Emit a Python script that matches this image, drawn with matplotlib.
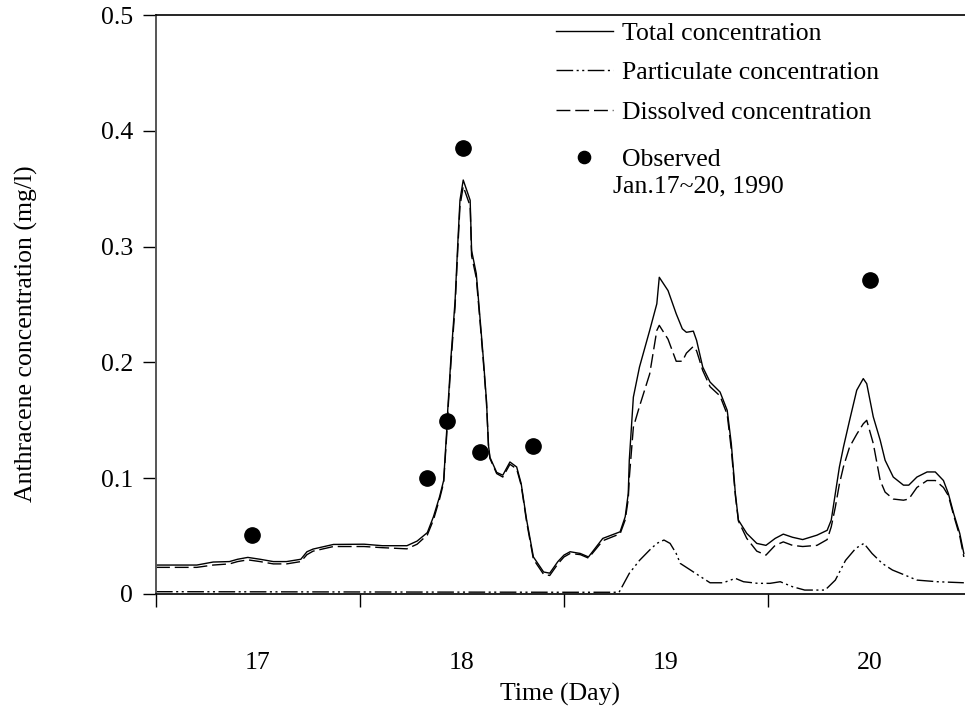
import matplotlib
matplotlib.use("Agg")
import matplotlib.pyplot as plt
from matplotlib.ticker import FixedLocator, NullFormatter, FixedFormatter

plt.rcParams['font.family'] = ['Liberation Serif', 'DejaVu Serif']

# ---- data (day, mg/l) ----
total_day = [16.5, 16.70, 16.78, 16.86, 16.90, 16.95, 17.01, 17.075, 17.14, 17.21,
             17.24, 17.27, 17.37, 17.52, 17.61, 17.73, 17.78, 17.83, 17.86, 17.89,
             17.91, 17.925, 17.93, 17.946, 17.966, 17.98, 17.99, 18.006, 18.04, 18.047,
             18.07, 18.088, 18.104, 18.12, 18.13, 18.137, 18.17, 18.20, 18.235, 18.268,
             18.29, 18.317, 18.35, 18.40, 18.43, 18.47, 18.50, 18.53, 18.58, 18.62,
             18.69, 18.775, 18.80, 18.815, 18.82, 18.84, 18.87, 18.92, 18.955, 18.967,
             19.01, 19.05, 19.08, 19.10, 19.134, 19.15, 19.18, 19.216, 19.265, 19.30,
             19.32, 19.34, 19.355, 19.396, 19.445, 19.49, 19.535, 19.575, 19.62, 19.67,
             19.74, 19.79, 19.81, 19.83, 19.85, 19.87, 19.90, 19.935, 19.967, 19.984,
             20.016, 20.05, 20.074, 20.114, 20.164, 20.19, 20.23, 20.28, 20.32, 20.36,
             20.384, 20.41, 20.44, 20.46]
total_conc = [0.025, 0.025, 0.0276, 0.028, 0.030, 0.0316, 0.030, 0.028, 0.028, 0.030,
              0.0365, 0.0388, 0.0428, 0.043, 0.0417, 0.0417, 0.0457, 0.053, 0.0667, 0.084,
              0.098, 0.141, 0.1586, 0.2046, 0.253, 0.305, 0.34, 0.3575, 0.34, 0.2966,
              0.2767, 0.239, 0.2046, 0.167, 0.128, 0.118, 0.105, 0.1026, 0.114, 0.1097,
              0.0954, 0.0638, 0.032, 0.019, 0.018, 0.028, 0.0336, 0.0365, 0.035, 0.032,
              0.048, 0.0537, 0.0667, 0.0868, 0.1155, 0.17, 0.196, 0.2276, 0.2506, 0.2735,
              0.262, 0.242, 0.229, 0.226, 0.227, 0.219, 0.196, 0.183, 0.1744, 0.1586,
              0.13, 0.0868, 0.0638, 0.0523, 0.0437, 0.042, 0.048, 0.0517, 0.049, 0.047,
              0.0508, 0.055, 0.0638, 0.0868, 0.1097, 0.127, 0.15, 0.176, 0.186, 0.1816,
              0.153, 0.1328, 0.1155, 0.101, 0.094, 0.094, 0.101, 0.1054, 0.1054, 0.098,
              0.0868, 0.0696, 0.0523, 0.035]
dissolved_conc = [0.023, 0.023, 0.025, 0.026, 0.028, 0.0295, 0.028, 0.026, 0.026, 0.028,
                  0.034, 0.037, 0.041, 0.041, 0.040, 0.039, 0.043, 0.051, 0.064, 0.082,
                  0.096, 0.137, 0.155, 0.200, 0.248, 0.300, 0.335, 0.352, 0.335, 0.292,
                  0.273, 0.236, 0.202, 0.165, 0.127, 0.117, 0.104, 0.101, 0.112, 0.108,
                  0.094, 0.062, 0.030, 0.017, 0.016, 0.026, 0.032, 0.035, 0.034, 0.031,
                  0.046, 0.052, 0.064, 0.082, 0.100, 0.144, 0.162, 0.190, 0.2276, 0.232,
                  0.220, 0.201, 0.201, 0.208, 0.2138, 0.210, 0.193, 0.179, 0.171, 0.155,
                  0.125, 0.085, 0.063, 0.048, 0.037, 0.0336, 0.042, 0.045, 0.042, 0.041,
                  0.042, 0.047, 0.058, 0.075, 0.095, 0.110, 0.127, 0.138, 0.147, 0.150,
                  0.130, 0.098, 0.088, 0.082, 0.081, 0.082, 0.092, 0.098, 0.098, 0.092,
                  0.085, 0.068, 0.050, 0.032]

part_day = [16.5, 18.5, 18.77, 18.82, 18.87, 18.92, 18.955, 18.99, 19.02, 19.05,
            19.07, 19.12, 19.17, 19.216, 19.28, 19.34, 19.38, 19.45, 19.51, 19.56,
            19.62, 19.68, 19.78, 19.83, 19.88, 19.93, 19.97, 20.01, 20.06, 20.11,
            20.17, 20.23, 20.33, 20.46]
part_conc = [0.002, 0.0015, 0.0015, 0.0178, 0.029, 0.038, 0.0437, 0.0466, 0.0437, 0.035,
             0.0264, 0.0207, 0.0149, 0.0097, 0.0097, 0.0135, 0.0106, 0.0092, 0.0092, 0.0106,
             0.0063, 0.0034, 0.0034, 0.012, 0.029, 0.0394, 0.0437, 0.035, 0.0264, 0.0207,
             0.0164, 0.012, 0.0106, 0.0097]

obs_day = [16.97, 17.83, 17.925, 18.005, 18.09, 18.35, 20.0]
obs_conc = [0.051, 0.100, 0.149, 0.385, 0.123, 0.128, 0.271]

day_labels = ['17', '18', '19', '20']
day_label_pos = [17, 18, 19, 20]
day_ticks = [16.5, 17.5, 18.5, 19.5]
y_ticks = [0, 0.1, 0.2, 0.3, 0.4, 0.5]
y_labels = ['0', '0.1', '0.2', '0.3', '0.4', '0.5']

FS = 18.5

# ---- figure ----
fig = plt.figure(figsize=(9.65, 7.13), dpi=100)
ax = fig.add_axes([156/965, 1 - 594/713, 1 - 156/965, (594 - 15)/713])

h_tot, = ax.plot(total_day, total_conc, color='black', lw=1.0, label='Total concentration')
h_par, = ax.plot(part_day, part_conc, color='black', lw=1.0,
                 dashes=(12, 2.5, 1.5, 2.5, 1.5, 2.5), label='Particulate concentration')
h_dis, = ax.plot(total_day, dissolved_conc, color='black', lw=1.0, dashes=(10, 3.5),
                 label='Dissolved concentration')
h_obs, = ax.plot(obs_day, obs_conc, 'o', color='black', ms=11, ls='none', label='Observed')

ax.set_xlim(16.5, 16.5 + (965 - 156) / 204)
ax.set_ylim(0, 0.5)

ax.xaxis.set_major_locator(FixedLocator(day_ticks))
ax.xaxis.set_major_formatter(NullFormatter())
ax.xaxis.set_minor_locator(FixedLocator(day_label_pos))
ax.xaxis.set_minor_formatter(FixedFormatter(day_labels))
ax.tick_params(axis='x', which='major', direction='out', length=9.5, width=1.0, color='black')
ax.tick_params(axis='x', which='minor', length=0, pad=42, labelsize=FS)
ax.yaxis.set_major_locator(FixedLocator(y_ticks))
ax.yaxis.set_major_formatter(FixedFormatter(y_labels))
ax.tick_params(axis='y', direction='out', length=9.5, width=1.0, pad=7, labelsize=FS)

ax.spines['right'].set_visible(False)
ax.spines['left'].set_color('#555555')
ax.spines['left'].set_linewidth(1.4)
ax.spines['bottom'].set_linewidth(1.2)
ax.spines['top'].set_linewidth(1.2)

fig.text(560/965, 1 - 694/713, 'Time (Day)', ha='center', va='center', fontsize=FS)
fig.text(26/965, 1 - 334/713, 'Anthracene concentration (mg/l)', ha='center', va='center',
         rotation=90, fontsize=FS)

x_leg = (556 - 156) / 809
leg1 = ax.legend(handles=[h_tot, h_par, h_dis], loc='upper left',
                 bbox_to_anchor=(x_leg, 1 - (22 - 15) / 579),
                 frameon=False, fontsize=FS, handlelength=2.2, handletextpad=0.38,
                 labelspacing=0.64, borderpad=0, borderaxespad=0)
ax.add_artist(leg1)
ax.legend(handles=[h_obs], loc='upper left',
          bbox_to_anchor=(x_leg, 1 - (148 - 15) / 579),
          frameon=False, fontsize=FS, handlelength=2.2, handletextpad=0.38,
          borderpad=0, borderaxespad=0, markerscale=0.8)
ax.text((613 - 156) / 809, 1 - (186 - 15) / 579, 'Jan.17~20, 1990', transform=ax.transAxes,
        ha='left', va='center', fontsize=FS)

fig.savefig('out.png', dpi=100)
